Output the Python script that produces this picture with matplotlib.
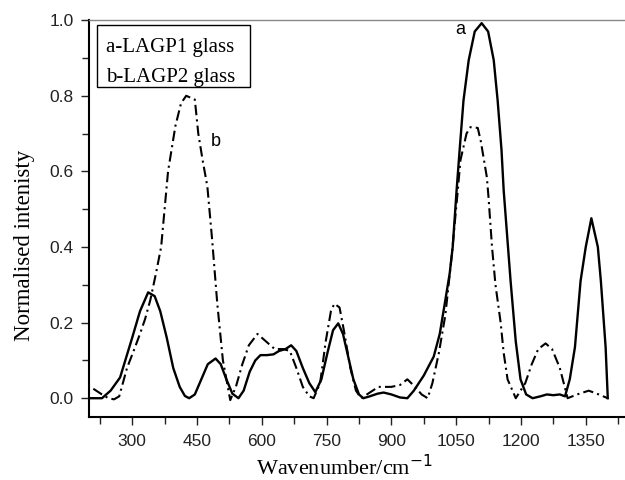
import matplotlib
matplotlib.use('Agg')
from matplotlib import pyplot as plt
from matplotlib.patches import Rectangle
from matplotlib.ticker import MultipleLocator

# curve a: LAGP1 glass (solid)
wn_a = [205, 230, 250, 272, 300, 318, 337, 352, 365, 380, 395, 410, 422, 432,
        445, 460, 475, 493, 505, 518, 532, 546, 558, 572, 585, 597, 612, 627,
        640, 655, 668, 680, 695, 710, 724, 738, 752, 765, 777, 788, 800, 812,
        825, 835, 850, 868, 882, 900, 920, 937, 952, 975, 998, 1012, 1025,
        1035, 1042, 1051, 1058, 1067, 1079, 1093, 1109, 1124, 1137, 1146, 1155,
        1160, 1168, 1176, 1188, 1199, 1212, 1227, 1245, 1260, 1275, 1290, 1302,
        1313, 1325, 1338, 1350, 1363, 1378, 1385, 1396, 1401]
int_a = [0.0, 0.0, 0.02, 0.055, 0.16, 0.23, 0.28, 0.27, 0.23, 0.16, 0.08, 0.03,
         0.006, 0.0, 0.01, 0.05, 0.09, 0.105, 0.09, 0.05, 0.012, 0.0, 0.02, 0.07,
         0.1, 0.114, 0.114, 0.116, 0.125, 0.13, 0.14, 0.125, 0.08, 0.04, 0.016,
         0.05, 0.12, 0.18, 0.198, 0.17, 0.11, 0.05, 0.01, 0.0, 0.005, 0.012,
         0.015, 0.01, 0.002, 0.0, 0.02, 0.06, 0.11, 0.17, 0.26, 0.33, 0.4, 0.55,
         0.656, 0.788, 0.894, 0.97, 0.992, 0.97, 0.894, 0.788, 0.656, 0.55,
         0.43, 0.31, 0.15, 0.05, 0.01, 0.0, 0.005, 0.01, 0.008, 0.01, 0.005,
         0.05, 0.135, 0.31, 0.4, 0.476, 0.4, 0.31, 0.135, 0.0]

# curve b: LAGP2 glass (dash-dot)
wn_b = [210, 230, 245, 258, 270, 288, 305, 318, 330, 342, 355, 367, 383, 400,
        413, 425, 445, 453, 463, 474, 485, 497, 510, 527, 540, 555, 570, 590,
        610, 630, 650, 665, 680, 695, 710, 720, 735, 748, 760, 768, 780, 790,
        805, 818, 830, 850, 870, 900, 920, 937, 955, 970, 984, 995, 1010, 1025,
        1040, 1053, 1060, 1074, 1083, 1100, 1107, 1121, 1125, 1133, 1141, 1153,
        1160, 1169, 1188, 1210, 1225, 1240, 1257, 1272, 1290, 1308, 1330, 1357,
        1380, 1401]
int_b = [0.025, 0.01, 0.0, -0.003, 0.005, 0.08, 0.13, 0.17, 0.21, 0.26, 0.33,
         0.4, 0.6, 0.72, 0.78, 0.80, 0.79, 0.70, 0.63, 0.56, 0.42, 0.25, 0.1,
         -0.005, 0.03, 0.09, 0.14, 0.17, 0.15, 0.13, 0.13, 0.125, 0.08, 0.03,
         0.005, 0.0, 0.04, 0.15, 0.23, 0.25, 0.24, 0.18, 0.08, 0.02, 0.0, 0.015,
         0.03, 0.03, 0.035, 0.05, 0.03, 0.01, 0.0, 0.04, 0.12, 0.22, 0.38, 0.54,
         0.63, 0.70, 0.717, 0.715, 0.68, 0.585, 0.53, 0.4, 0.3, 0.2, 0.12, 0.05,
         0.0, 0.04, 0.09, 0.13, 0.145, 0.13, 0.08, 0.0, 0.01, 0.02, 0.01, 0.0]

legend_lines = ['a-LAGP1 glass', 'b-LAGP2 glass']
x_ticks = [300, 450, 600, 750, 900, 1050, 1200, 1350]
y_ticks = [0.0, 0.2, 0.4, 0.6, 0.8, 1.0]

sans = ['Liberation Sans', 'DejaVu Sans']
serif = ['Liberation Serif', 'DejaVu Serif']

fig = plt.figure(figsize=(6.25, 4.8), dpi=100)
ax = fig.add_axes([0.1424, 0.131, 0.857, 0.827])

ax.plot(wn_a, int_a, color='black', lw=1.7, solid_joinstyle='round')
ax.plot(wn_b, int_b, color='black', lw=1.5, linestyle=(0, (5, 2, 1, 2)))

ax.set_xlim(200, 1440)
ax.set_ylim(-0.05, 1.0)
ax.set_xticks(x_ticks)
ax.set_yticks(y_ticks)
ax.xaxis.set_minor_locator(MultipleLocator(75))
ax.yaxis.set_minor_locator(MultipleLocator(0.1))
ax.tick_params(which='both', direction='out', width=1.0, labelsize=12.5, colors='#222222')
ax.tick_params(which='major', length=6)
ax.tick_params(which='minor', length=5)
for lab in ax.get_xticklabels() + ax.get_yticklabels():
    lab.set_family(sans)
ax.tick_params(axis='x', pad=6)
ax.tick_params(axis='y', pad=5)

ax.spines['left'].set_linewidth(1.5)
ax.spines['bottom'].set_linewidth(1.5)
ax.spines['right'].set_visible(False)
ax.spines['top'].set_color('#888888')
ax.spines['top'].set_linewidth(1.0)

ax.set_xlabel('Wavenumber/cm$^{-1}$', family=serif, fontsize=16)
ax.xaxis.set_label_coords(0.476, -0.095)
ax.set_ylabel('Normalised intenisty', family=serif, fontsize=16.5)
ax.yaxis.set_label_coords(-0.1, 0.433)

# legend box with text only
ax.add_patch(Rectangle((0.015, 0.831), 0.285, 0.156, transform=ax.transAxes,
                       fc='white', ec='black', lw=1.0, zorder=3))
ax.text(0.032, 0.919, legend_lines[0], transform=ax.transAxes, family=serif,
        fontsize=15, va='baseline', ha='left', zorder=4)
ax.text(0.032, 0.844, legend_lines[1], transform=ax.transAxes, family=serif,
        fontsize=15, va='baseline', ha='left', zorder=4)

ax.text(1060, 0.975, 'a', family=sans, fontsize=13, ha='center', va='center')
ax.text(493, 0.68, 'b', family=sans, fontsize=13, ha='center', va='center')

plt.savefig('out.png', dpi=100)
